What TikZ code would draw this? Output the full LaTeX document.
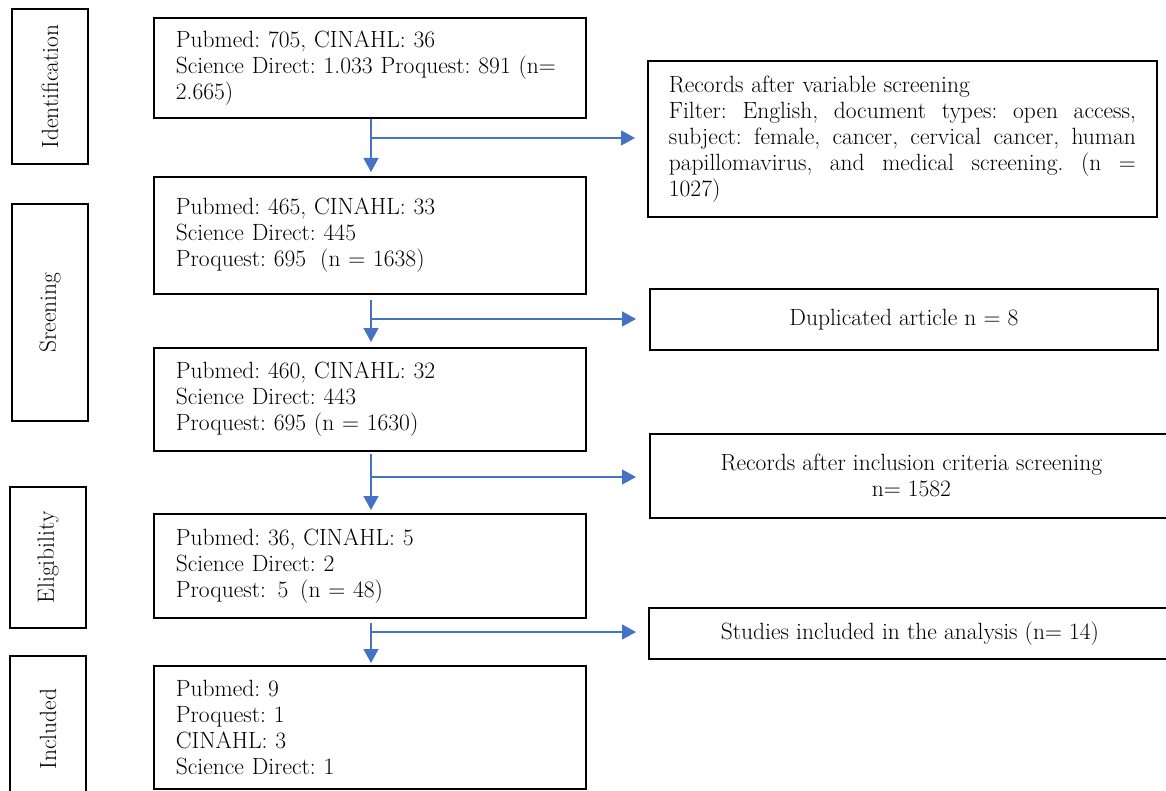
\documentclass[tikz,border=0pt]{standalone}
\usetikzlibrary{arrows.meta}
\definecolor{arrblue}{HTML}{4472C4}
\newcommand{\jline}[1]{\leavevmode\hbox to 467pt{#1}}
\begin{document}
\begin{tikzpicture}[x=1pt,y=-1pt,
  every node/.style={font=\fontsize{23.5}{26}\selectfont\frenchspacing},
  mainbox/.style={draw=black, line width=1.8pt, anchor=north west, text width=388pt, inner xsep=22pt, inner ysep=0pt, align=left},
  sidebox/.style={draw=black, line width=1.8pt, inner sep=0pt, rotate=90, minimum height=76pt},
  rbox/.style={draw=black, line width=1.8pt, anchor=north west, inner sep=0pt, align=center},
  arr/.style={draw=arrblue, line width=1.4pt, -{Triangle[width=15pt,length=14pt]}}
]
\useasboundingbox (0,0) rectangle (1166,791);

% stage labels
\node[sidebox, minimum width=155pt] (sid) at (50,86.5) {Identification};
\node[sidebox, minimum width=217pt] (sscr) at (50,312.5) {Sreening};
\node[sidebox, minimum width=141pt] (sel) at (48,557.5) {Eligibility};
\node[sidebox, minimum width=146pt] (sinc) at (48,729) {Included};

% main column
\node[mainbox, minimum height=100pt] (b1) at (153,17) {\mbox{Pubmed: 705, CINAHL: 36}\\\mbox{Science Direct: 1.033 Proquest: 891 (n=}\\2.665)};
\node[mainbox, minimum height=117pt] (b2) at (153,176) {\mbox{Pubmed: 465, CINAHL: 33}\\\mbox{Science Direct: 445}\\\mbox{Proquest: 695\hspace{0.6em}(n = 1638)}};
\node[mainbox, minimum height=103pt] (b3) at (153,347) {\mbox{Pubmed: 460, CINAHL: 32}\\\mbox{Science Direct: 443}\\\mbox{Proquest: 695 (n = 1630)}};
\node[mainbox, minimum height=104pt] (b4) at (153,513) {\mbox{Pubmed: 36, CINAHL: 5}\\\mbox{Science Direct: 2}\\\mbox{Proquest:\hspace{0.5em}5\hspace{0.5em}(n = 48)}};
\node[mainbox, minimum height=123pt] (b5) at (153,665) {Pubmed: 9\\Proquest: 1\\CINAHL: 3\\\mbox{Science Direct: 1}};

% right column
\node[rbox, text width=467pt, inner xsep=21pt, minimum height=156pt, align=left] (r1) at (647,60) {\mbox{Records after variable screening}\\
\jline{Filter:\hfill English,\hfill document\hfill types:\hfill open\hfill access,}\\
\jline{subject:\hfill female,\hfill cancer,\hfill cervical\hfill cancer,\hfill human}\\
\jline{papillomavirus,\hfill and\hfill medical\hfill screening.\hfill (n\hfill =}\\
1027)};
\node[rbox, minimum width=508pt, minimum height=61pt] (r2) at (649,288) {Duplicated article n = 8};
\node[rbox, minimum width=523pt, minimum height=84pt] (r3) at (649,433) {Records after inclusion criteria screening\\n= 1582};
\node[rbox, minimum width=522pt, minimum height=51pt] (r4) at (648,607) {Studies included in the analysis (n= 14)};

% branch points
\coordinate (k1) at (371,138);
\coordinate (k2) at (371,319);
\coordinate (k3) at (371,477);
\coordinate (k4) at (371,632);

% vertical arrows
\draw[arr, shorten >=4pt] (b1.south -| k1) -- (b2.north -| k1);
\draw[arr, shorten <=5pt, shorten >=5pt] (b2.south -| k2) -- (b3.north -| k2);
\draw[arr, shorten <=2pt, shorten >=3pt] (b3.south -| k3) -- (b4.north -| k3);
\draw[arr, shorten <=4pt, shorten >=2pt] (b4.south -| k4) -- (b5.north -| k4);

% side arrows
\draw[arr, shorten >=12pt] (k1) -- (k1 -| r1.west);
\draw[arr, shorten >=13pt] (k2) -- (k2 -| r2.west);
\draw[arr, shorten >=13pt] (k3) -- (k3 -| r3.west);
\draw[arr, shorten >=12pt] (k4) -- (k4 -| r4.west);
\end{tikzpicture}
\end{document}
